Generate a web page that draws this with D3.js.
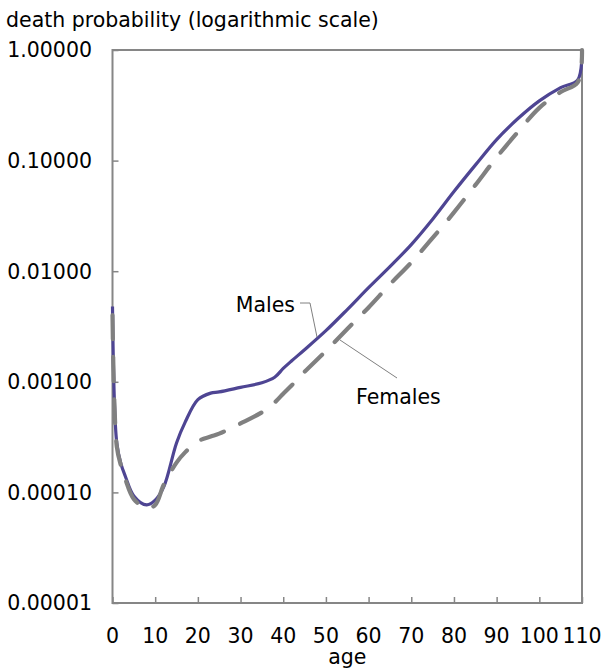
<!DOCTYPE html>
<html>
<head>
<meta charset="utf-8">
<script src="https://cdn.jsdelivr.net/npm/d3@7"></script>
<style>
  body { margin: 0; background: #fff; }
  text { font-family: "DejaVu Sans", Verdana, sans-serif; fill: #000; }
</style>
</head>
<body>
<div id="chart"></div>
<script>
// ages on the x axis
var ages = [0, 1, 2, 3, 5, 8, 10, 12, 15, 17, 20, 23, 25, 30, 35, 38, 40, 42, 45, 50, 55, 60, 65, 70, 75, 80, 85, 90, 95, 100, 105, 109, 110];
// death probability, males
var males = [0.0048, 0.00028, 0.00018, 0.000140, 0.000093, 0.000077, 0.000085, 0.000112, 0.00028, 0.00043, 0.00069, 0.00079, 0.00081, 0.00089, 0.00098, 0.00110, 0.00132, 0.00155, 0.00195, 0.0029, 0.0045, 0.0071, 0.0110, 0.0174, 0.0295, 0.0525, 0.091, 0.155, 0.24, 0.347, 0.457, 0.537, 1.0];
// death probability, females
var females = [0.0040, 0.00026, 0.000174, 0.000132, 0.000087, 0.000072, 0.000077, 0.000117, 0.000186, 0.00023, 0.00029, 0.00032, 0.00034, 0.00042, 0.00053, 0.00065, 0.00078, 0.00093, 0.00123, 0.0019, 0.0030, 0.0047, 0.0076, 0.012, 0.020, 0.034, 0.060, 0.107, 0.182, 0.30, 0.417, 0.51, 1.0];
var xTicks = [0, 10, 20, 30, 40, 50, 60, 70, 80, 90, 100, 110];
var yTicks = [0.00001, 0.0001, 0.001, 0.01, 0.1, 1];

var width = 603, height = 670;
var margin = {left: 112.5, right: 21, top: 50, bottom: 67};

var svg = d3.select("#chart").append("svg")
    .attr("width", width)
    .attr("height", height);

var x = d3.scaleLinear().domain([0, 110]).range([margin.left, width - margin.right]);
var y = d3.scaleLog().domain([0.00001, 1]).range([height - margin.bottom, margin.top]);

var axisColor = "#868686";

// ticks (inside)
svg.append("g")
    .attr("transform", "translate(0," + y(0.00001) + ")")
    .call(d3.axisBottom(x).tickValues(xTicks).tickSize(-6).tickFormat(""))
    .call(function(g) {
        g.select(".domain").remove();
        g.selectAll("line").attr("stroke", axisColor).attr("stroke-width", 1.5);
    });
svg.append("g")
    .attr("transform", "translate(" + x(0) + ",0)")
    .call(d3.axisLeft(y).tickValues(yTicks).tickSize(-6).tickFormat(""))
    .call(function(g) {
        g.select(".domain").remove();
        g.selectAll("line").attr("stroke", axisColor).attr("stroke-width", 1.5);
    });

// frame
svg.append("rect")
    .attr("x", x(0))
    .attr("y", y(1))
    .attr("width", x(110) - x(0))
    .attr("height", y(0.00001) - y(1))
    .attr("fill", "none")
    .attr("stroke", axisColor)
    .attr("stroke-width", 2);

// tick labels
svg.selectAll(".ylab")
    .data(yTicks)
    .enter().append("text")
    .attr("x", 92)
    .attr("y", function(d) { return y(d); })
    .attr("dy", "0.36em")
    .attr("text-anchor", "end")
    .style("font-size", "20.5px")
    .text(d3.format(".5f"));

svg.selectAll(".xlab")
    .data(xTicks)
    .enter().append("text")
    .attr("x", function(d) { return x(d); })
    .attr("y", 636)
    .attr("dy", "0.36em")
    .attr("text-anchor", "middle")
    .style("font-size", "20.5px")
    .text(function(d) { return d; });

svg.append("text")
    .attr("x", (x(0) + x(110)) / 2)
    .attr("y", 657)
    .attr("dy", "0.36em")
    .attr("text-anchor", "middle")
    .style("font-size", "20.5px")
    .text("age");

svg.append("text")
    .attr("x", 6)
    .attr("y", 20)
    .attr("dy", "0.36em")
    .style("font-size", "20.5px")
    .text("death probability (logarithmic scale)");

// lines
var line = d3.line()
    .x(function(d) { return x(d[0]); })
    .y(function(d) { return y(d[1]); })
    .curve(d3.curveCatmullRom.alpha(0.5));

svg.append("path")
    .datum(d3.zip(ages, males))
    .attr("d", line)
    .attr("fill", "none")
    .attr("stroke", "#4E4593")
    .attr("stroke-width", 3.2)
    .attr("stroke-linejoin", "round");

svg.append("path")
    .datum(d3.zip(ages, females))
    .attr("d", line)
    .attr("fill", "none")
    .attr("stroke", "#808080")
    .attr("stroke-width", 4.2)
    .attr("stroke-dasharray", "24,18")
    .attr("stroke-linecap", "round");

// labels with leader lines
svg.append("polyline")
    .attr("points", "300,303 310,303 317,337")
    .attr("fill", "none")
    .attr("stroke", "#808080")
    .attr("stroke-width", 1);
svg.append("text")
    .attr("x", 295)
    .attr("y", 305)
    .attr("dy", "0.36em")
    .attr("text-anchor", "end")
    .style("font-size", "20.5px")
    .text("Males");

svg.append("line")
    .attr("x1", 397).attr("y1", 378)
    .attr("x2", 340).attr("y2", 340)
    .attr("stroke", "#808080")
    .attr("stroke-width", 1);
svg.append("text")
    .attr("x", 356)
    .attr("y", 397)
    .attr("dy", "0.36em")
    .style("font-size", "20.5px")
    .text("Females");
</script>
</body>
</html>
